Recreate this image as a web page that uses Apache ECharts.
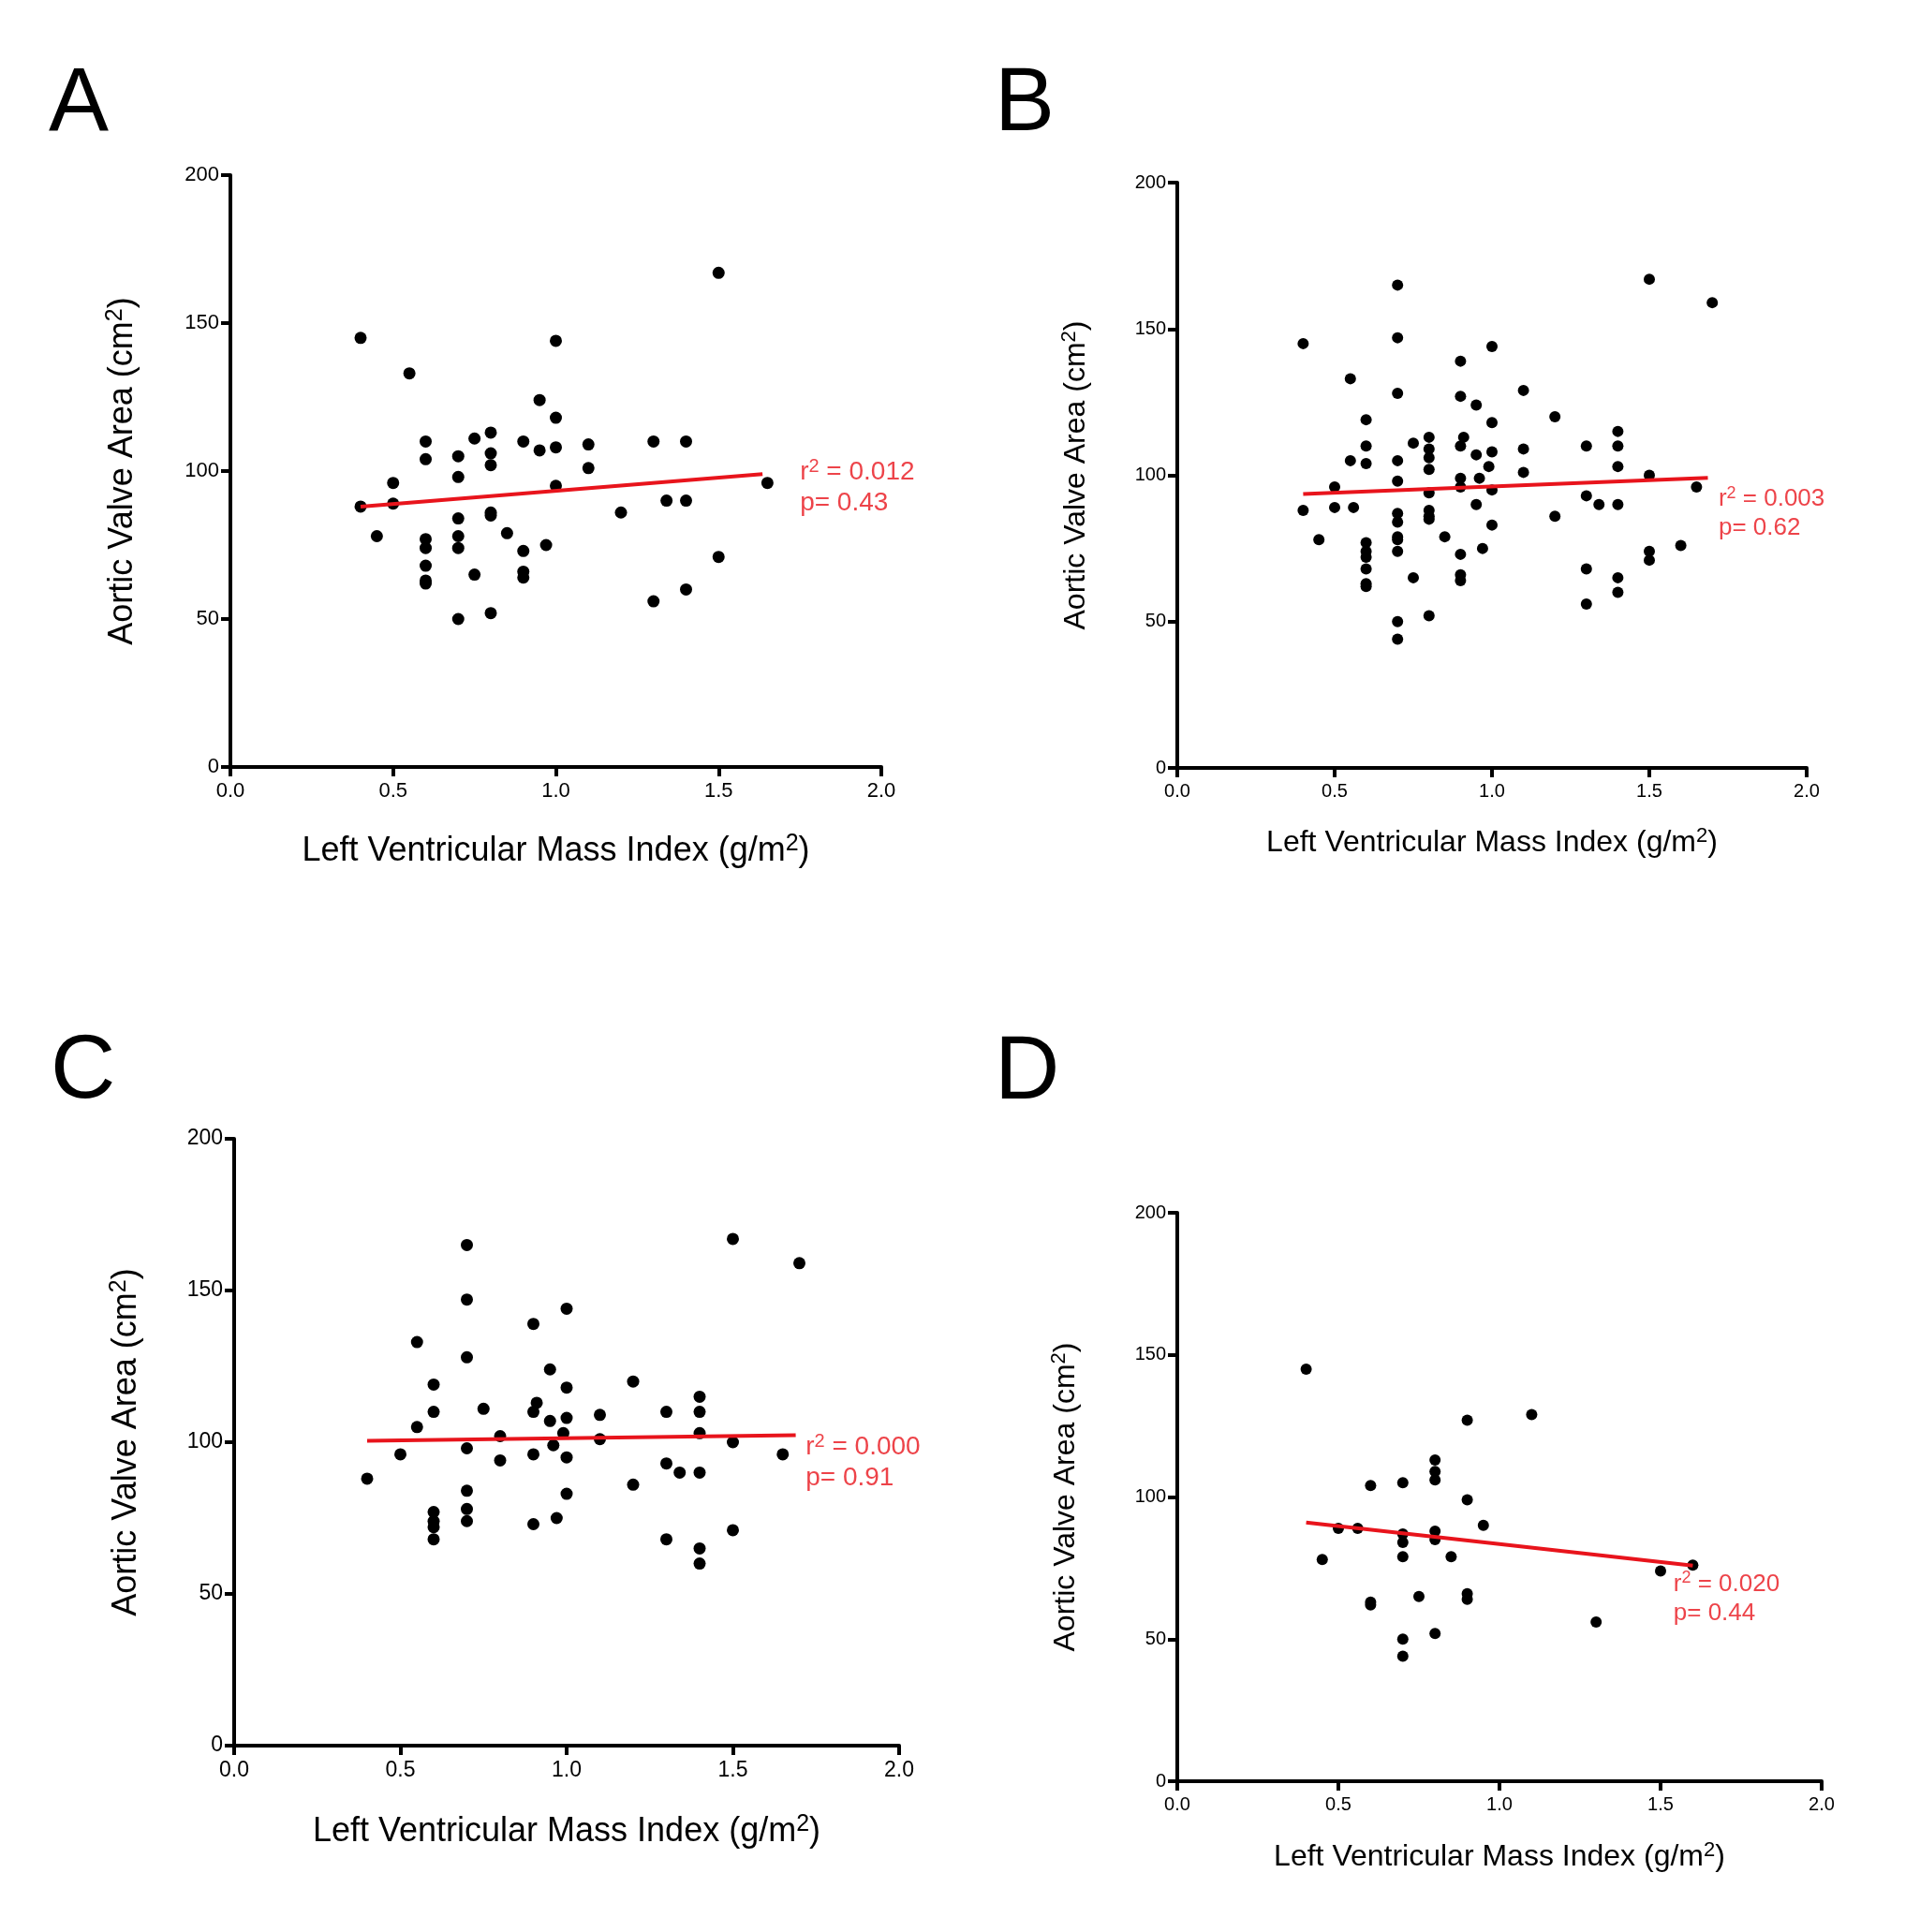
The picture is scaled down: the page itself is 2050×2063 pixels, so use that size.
<!DOCTYPE html>
<html>
<head>
<meta charset="utf-8">
<title>Aortic Valve Area vs LVMI</title>
<script src="https://cdn.jsdelivr.net/npm/echarts@6/dist/echarts.min.js"></script>
<style>
    * { margin: 0; padding: 0; }
    body { background: #fff; }
    #main { width: 2050px; height: 2063px; }
</style>
</head>
<body>
<div id="main"></div>
<script>
    // x = Left Ventricular Mass Index, y = Aortic Valve Area
    var pointsA = [[0.4,145],[0.4,88],[0.45,78],[0.5,96],[0.5,89],[0.55,133],
        [0.6,110],[0.6,104],[0.6,77],[0.6,74],[0.6,68],[0.6,63],[0.6,62],
        [0.7,105],[0.7,98],[0.7,84],[0.7,78],[0.7,74],[0.7,50],[0.75,111],[0.75,65],
        [0.8,113],[0.8,106],[0.8,102],[0.8,86],[0.8,85],[0.8,52],[0.85,79],
        [0.9,110],[0.9,73],[0.9,66],[0.9,64],[0.95,124],[0.95,107],[0.97,75],
        [1.0,144],[1.0,118],[1.0,108],[1.0,95],[1.1,109],[1.1,101],[1.2,86],
        [1.3,110],[1.3,56],[1.34,90],[1.4,110],[1.4,90],[1.4,60],[1.5,167],[1.5,71],[1.65,96]];
    var pointsB = [[0.4,145],[0.4,88],[0.45,78],[0.5,96],[0.5,89],[0.55,133],[0.55,105],[0.56,89],
        [0.6,119],[0.6,110],[0.6,104],[0.6,77],[0.6,74],[0.6,72],[0.6,68],[0.6,63],[0.6,62],
        [0.7,165],[0.7,147],[0.7,128],[0.7,105],[0.7,98],[0.7,87],[0.7,84],[0.7,79],[0.7,78],[0.7,74],[0.7,50],[0.7,44],
        [0.75,111],[0.75,65],
        [0.8,113],[0.8,109],[0.8,106],[0.8,102],[0.8,94],[0.8,88],[0.8,86],[0.8,85],[0.8,52],[0.85,79],
        [0.9,139],[0.9,127],[0.9,110],[0.9,99],[0.9,96],[0.9,73],[0.9,66],[0.9,64],[0.91,113],
        [0.95,124],[0.95,107],[0.95,90],[0.96,99],[0.97,75],[0.99,103],
        [1.0,144],[1.0,118],[1.0,108],[1.0,95],[1.0,83],[1.1,129],[1.1,109],[1.1,101],
        [1.2,120],[1.2,86],[1.3,110],[1.3,93],[1.3,68],[1.3,56],[1.34,90],
        [1.4,115],[1.4,110],[1.4,103],[1.4,90],[1.4,65],[1.4,60],
        [1.5,167],[1.5,100],[1.5,74],[1.5,71],[1.6,76],[1.65,96],[1.7,159]];
    var pointsC = [[0.4,88],[0.5,96],[0.55,133],[0.55,105],
        [0.6,119],[0.6,110],[0.6,77],[0.6,74],[0.6,72],[0.6,68],
        [0.7,165],[0.7,147],[0.7,128],[0.7,98],[0.7,84],[0.7,78],[0.7,74],[0.75,111],
        [0.8,102],[0.8,94],[0.9,139],[0.9,110],[0.9,96],[0.9,73],[0.91,113],
        [0.95,124],[0.95,107],[0.96,99],[0.97,75],[0.99,103],
        [1.0,144],[1.0,118],[1.0,108],[1.0,95],[1.0,83],[1.1,109],[1.1,101],
        [1.2,120],[1.2,86],[1.3,110],[1.3,93],[1.3,68],[1.34,90],
        [1.4,115],[1.4,110],[1.4,103],[1.4,90],[1.4,65],[1.4,60],
        [1.5,167],[1.5,100],[1.5,71],[1.65,96],[1.7,159]];
    var pointsD = [[0.4,145],[0.45,78],[0.5,89],[0.56,89],[0.6,104],[0.6,63],[0.6,62],
        [0.7,105],[0.7,87],[0.7,84],[0.7,79],[0.7,50],[0.7,44],[0.75,65],
        [0.8,113],[0.8,109],[0.8,106],[0.8,88],[0.8,85],[0.8,52],[0.85,79],
        [0.9,127],[0.9,99],[0.9,66],[0.9,64],[0.95,90],[1.1,129],[1.3,56],[1.5,74],[1.6,76]];

    // regression line end points
    var fitA = [[0.4,88],[1.635,99]];
    var fitB = [[0.4,93.6],[1.686,99.1]];
    var fitC = [[0.4,100.5],[1.689,102.3]];
    var fitD = [[0.4,91],[1.6,75.9]];

    var r2Values = ['0.012', '0.003', '0.000', '0.020'];
    var pValues = ['0.43', '0.62', '0.91', '0.44'];
    var panelLetters = ['A', 'B', 'C', 'D'];
    var xTicks = [0, 0.5, 1.0, 1.5, 2.0];
    var yTicks = [0, 50, 100, 150, 200];

    var RED = '#e8141c';
    var FONT = '"Liberation Sans", Arial, Helvetica, sans-serif';

    var panels = [
        {pts: pointsA, fit: fitA, note: [1.75, 94.3], grid: {left: 246, top: 187, width: 695, height: 632},
            tick: 22, title: 36, noteSize: 28, dot: 13, xGap: 70, yGap: 95, letter: [52, 113]},
        {pts: pointsB, fit: fitB, note: [1.72, 86.8], grid: {left: 1257, top: 195, width: 672, height: 625},
            tick: 20, title: 32, noteSize: 26, dot: 12, xGap: 62, yGap: 90, letter: [1062, 113]},
        {pts: pointsC, fit: fitC, note: [1.719, 93.2], grid: {left: 250, top: 1216, width: 710, height: 648},
            tick: 23, title: 36, noteSize: 28, dot: 13, xGap: 72, yGap: 95, letter: [54, 1146]},
        {pts: pointsD, fit: fitD, note: [1.54, 64.3], grid: {left: 1257, top: 1295, width: 688, height: 607},
            tick: 20, title: 32, noteSize: 26, dot: 12, xGap: 63, yGap: 101, letter: [1062, 1147]}
    ];

    var grids = [], xAxes = [], yAxes = [], series = [], graphics = [];

    panels.forEach(function (p, i) {
        grids.push(p.grid);

        var supSize = Math.round(p.title * 0.7);
        var titleStyle = {
            fontFamily: FONT, fontSize: p.title, color: '#000', lineHeight: p.title + 4,
            rich: {
                t: {fontFamily: FONT, fontSize: p.title, color: '#000', lineHeight: p.title + 4},
                s: {fontFamily: FONT, fontSize: supSize, color: '#000', lineHeight: Math.round(supSize * 0.4), verticalAlign: 'top'}
            }
        };
        var axisLine = {show: true, onZero: false, lineStyle: {color: '#000', width: 4}};
        var axisTick = {show: true, length: 10, lineStyle: {color: '#000', width: 4}};

        xAxes.push({
            gridIndex: i, type: 'value', min: xTicks[0], max: xTicks[xTicks.length - 1], interval: xTicks[1] - xTicks[0],
            axisLine: axisLine, axisTick: axisTick, splitLine: {show: false},
            axisLabel: {fontFamily: FONT, fontSize: p.tick, color: '#000', margin: 15,
                showMinLabel: true, showMaxLabel: true,
                formatter: function (v) { return v.toFixed(1); }},
            name: '{t|Left Ventricular Mass Index (g/m}{s|2}{t|)}',
            nameLocation: 'middle', nameGap: p.xGap, nameTextStyle: titleStyle
        });
        yAxes.push({
            gridIndex: i, type: 'value', min: yTicks[0], max: yTicks[yTicks.length - 1], interval: yTicks[1] - yTicks[0],
            axisLine: axisLine, axisTick: axisTick, splitLine: {show: false},
            axisLabel: {fontFamily: FONT, fontSize: p.tick, color: '#000', margin: 12,
                showMinLabel: true, showMaxLabel: true},
            name: '{t|Aortic Valve Area (cm}{s|2}{t|)}',
            nameLocation: 'middle', nameRotate: 90, nameGap: p.yGap, nameTextStyle: titleStyle
        });

        series.push({
            type: 'scatter', xAxisIndex: i, yAxisIndex: i, data: p.pts,
            symbol: 'circle', symbolSize: p.dot, itemStyle: {color: '#000', opacity: 1}, z: 2
        });
        series.push({
            type: 'line', xAxisIndex: i, yAxisIndex: i, data: p.fit, showSymbol: false,
            lineStyle: {color: RED, width: 4}, z: 3
        });

        var supNote = Math.round(p.noteSize * 0.7);
        series.push({
            type: 'scatter', xAxisIndex: i, yAxisIndex: i, data: [p.note], symbolSize: 0,
            label: {
                show: true, position: 'right', distance: 0,
                formatter: '{t|r}{s|2}{t| = ' + r2Values[i] + '}\n{t|p= ' + pValues[i] + '}',
                rich: {
                    t: {fontFamily: FONT, fontSize: p.noteSize, color: RED, lineHeight: Math.round(p.noteSize * 1.18)},
                    s: {fontFamily: FONT, fontSize: supNote, color: RED, lineHeight: Math.round(supNote * 0.45), verticalAlign: 'top'}
                }
            }
        });

        graphics.push({
            type: 'text', left: p.letter[0], top: p.letter[1] - 48,
            style: {text: panelLetters[i], fontFamily: FONT, fontSize: 96, fill: '#000'}
        });
    });

    var chart = echarts.init(document.getElementById('main'));
    chart.setOption({
        animation: false,
        backgroundColor: '#fff',
        grid: grids,
        xAxis: xAxes,
        yAxis: yAxes,
        series: series,
        graphic: graphics
    });
</script>
</body>
</html>
